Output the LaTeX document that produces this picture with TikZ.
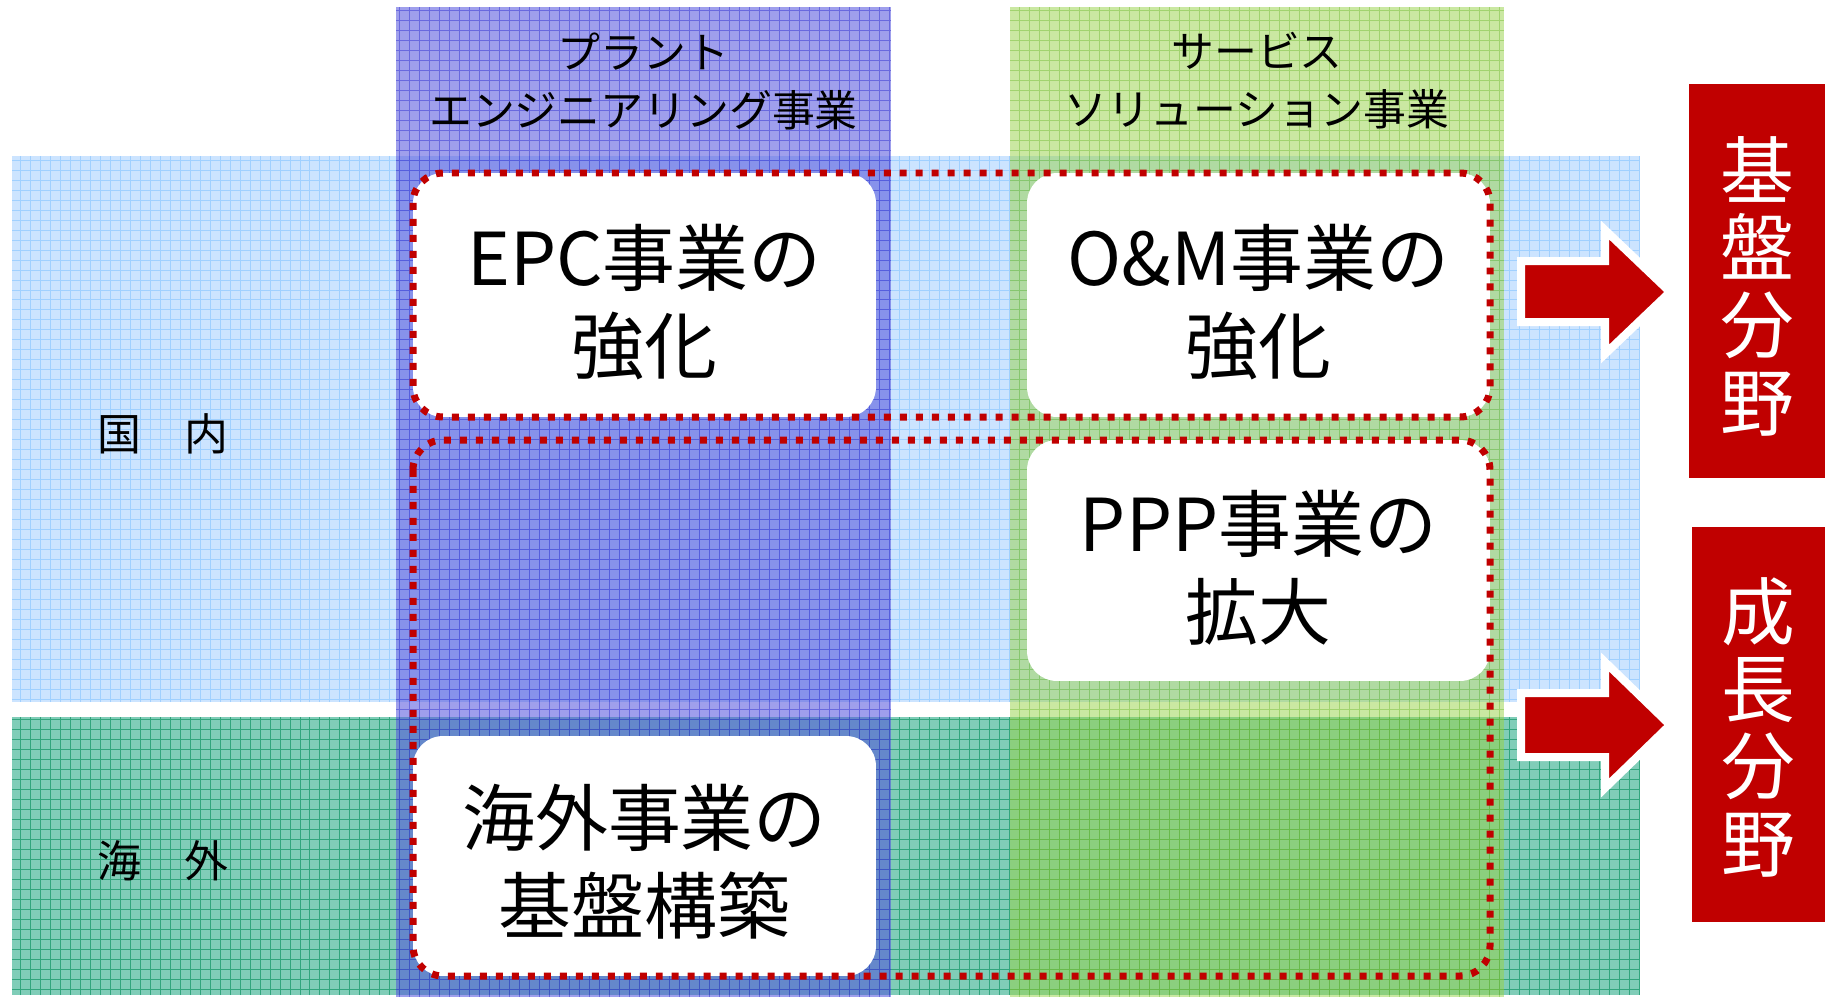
\documentclass[tikz,border=0pt]{standalone}
\usepackage{fontspec}
\setmainfont{Noto Sans CJK JP}
\definecolor{bandblue}{RGB}{204,228,255}
\definecolor{bandbluegrid}{RGB}{160,208,255}
\definecolor{bandteal}{RGB}{128,205,184}
\definecolor{bandtealgrid}{RGB}{50,165,125}
\definecolor{colblue}{RGB}{80,80,220}
\definecolor{colbluegrid}{RGB}{60,60,210}
\definecolor{colgreen}{RGB}{150,210,70}
\definecolor{colgreengrid}{RGB}{110,185,50}
\definecolor{darkred}{RGB}{192,0,0}
\begin{document}
\begin{tikzpicture}[x=0.02cm,y=-0.02cm,
  gridln/.style={line width=0.5pt, step=0.2cm},
  wbox/.style={fill=white, rounded corners=0.6cm, inner sep=0pt},
  boxtext/.style={align=center, inner sep=0pt, font=\fontsize{41.5}{50}\selectfont},
  reddot/.style={draw=darkred, line width=0.14cm, dash pattern=on 0.14cm off 0.18cm, rounded corners=0.6cm},
  arrowshape/.style={fill=darkred, draw=white, line width=0.16cm, line join=miter},
  redbox/.style={fill=darkred, inner sep=0pt},
  redtext/.style={text=white, align=center, inner sep=0pt, font=\fontsize{42}{44}\selectfont},
  hdr/.style={align=center, font=\fontsize{24.4}{33}\selectfont},
  rowlbl/.style={font=\fontsize{25}{30}\selectfont}]
\useasboundingbox (0,0) rectangle (1825,997);
% bands
\fill[bandblue] (12,156) rectangle (1640,702);
\draw[gridln, bandbluegrid] (12,702) grid (1640,156);
\fill[bandteal] (12,717) rectangle (1640,995);
\draw[gridln, bandtealgrid] (12,995) grid (1640,717);
% columns
\fill[colblue, fill opacity=0.55] (396,7) rectangle (891,997);
\draw[gridln, colbluegrid, opacity=0.55] (396,997) grid (891,7);
\fill[colgreen, fill opacity=0.5] (1010,7) rectangle (1504,997);
\draw[gridln, colgreengrid, opacity=0.45] (1010,997) grid (1504,7);
% headers
\node[hdr] (h1) at (643.5,81) {プラント\\エンジニアリング事業};
\node[hdr] (h2) at (1257,81) {サービス\\ソリューション事業};
% row labels
\node[rowlbl] (r1) at (163,434) {国　内};
\node[rowlbl] (r2) at (163,861) {海　外};
% white boxes
\node[wbox, minimum width=9.26cm, minimum height=4.88cm] (epc) at (644.5,295) {};
\node[wbox, minimum width=9.26cm, minimum height=4.88cm] (om) at (1258.5,295) {};
\node[wbox, minimum width=9.26cm, minimum height=4.82cm] (ppp) at (1258.5,560.5) {};
\node[wbox, minimum width=9.26cm, minimum height=4.80cm] (kaigai) at (644.5,856) {};
\node[boxtext] (epct) at ([yshift=-0.15cm]epc.center) {EPC事業の\\強化};
\node[boxtext] (omt) at ([yshift=-0.15cm]om.center) {O\&M事業の\\強化};
\node[boxtext] (pppt) at ([yshift=-0.15cm]ppp.center) {PPP事業の\\拡大};
\node[boxtext] (kaigait) at ([yshift=-0.12cm]kaigai.center) {海外事業の\\基盤構築};
% dotted groups
\draw[reddot] (413,173) rectangle (1490,417);
\draw[reddot] (413,440) rectangle (1490,976);
% arrows
\draw[arrowshape] (1521,261) -- (1605,261) -- (1605,230) -- (1670,292) -- (1605,354) -- (1605,322) -- (1521,322) -- cycle;
\draw[arrowshape] (1521,693) -- (1605,693) -- (1605,662) -- (1670,725) -- (1605,788) -- (1605,757) -- (1521,757) -- cycle;
% red boxes
\node[redbox, minimum width=2.72cm, minimum height=7.88cm] (kiban) at (1757,281) {};
\node[redbox, minimum width=2.66cm, minimum height=7.90cm] (seicho) at (1758.5,724.5) {};
\node[redtext] (kibant) at ([yshift=-0.1cm]kiban.center) {基\\盤\\分\\野};
\node[redtext] (seichot) at ([yshift=-0.05cm]seicho.center) {成\\長\\分\\野};
\end{tikzpicture}
\end{document}
